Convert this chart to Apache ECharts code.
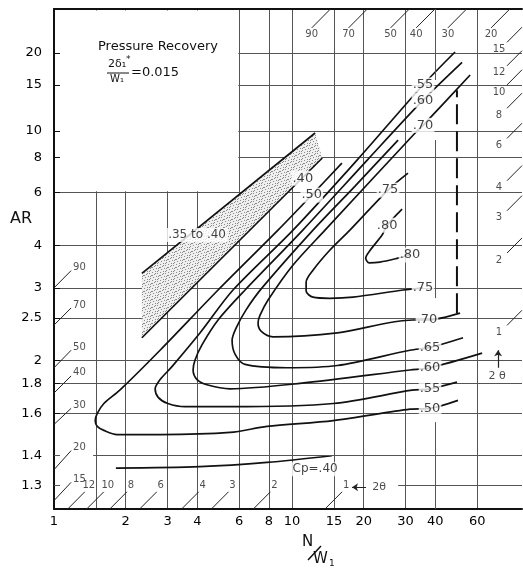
<!DOCTYPE html>
<html><head><meta charset="utf-8">
<script src="https://cdn.jsdelivr.net/npm/echarts@6/dist/echarts.min.js"></script>
<style>html,body{margin:0;padding:0;background:#fff}#c{width:523px;height:570px}</style>
</head><body><div id="c"></div>
<script>
// ---------- axes ----------
const xLabelValues = [1, 2, 3, 4, 6, 8, 10, 15, 20, 30, 40, 60];
const xGridValues = [1.5, 2, 3, 4, 6, 8, 10, 15, 20, 30, 60];      // full-height vertical rules
const arLabelValues = [1.3, 1.4, 1.6, 1.8, 2, 2.5, 3, 4, 6, 8, 10, 15, 20];
const arGridValues = [1.6, 1.8, 2, 2.5, 3, 4, 6, 8, 10, 15, 20];   // full-width horizontal rules
// partial rules: [N/W from, AR from, N/W to, AR to]
const partialRules = [[1, 1.3, 1.06, 1.3], [27.9, 1.3, 92.5, 1.3], [1, 1.4, 1.06, 1.4], [1.46, 1.4, 92.5, 1.4],
  [40, 1.24, 40, 1.552], [40, 2.813, 40, 9.25], [40, 15.68, 40, 30]];

// ---------- Cp contours: [N/W1, AR] ----------
const cp40 = [[1.82, 1.355], [4.1, 1.36], [7.85, 1.375], [14.7, 1.40]];
const cp50 = [[16.2, 7.62], [12.1, 5.87], [8.73, 4.48], [4.89, 2.96], [2.79, 2.10], [1.89, 1.75], [1.62, 1.66], [1.52, 1.60], [1.49, 1.56], [1.52, 1.53], [1.62, 1.51], [1.84, 1.49], [2.79, 1.49], [5.49, 1.50], [7.85, 1.53], [14.9, 1.56], [31.3, 1.625], [38, 1.63], [49.8, 1.68]];
const cp55 = [[48.4, 20.2], [35.5, 15.0], [18.76, 7.81], [10.1, 4.48], [5.65, 2.96], [4.11, 2.30], [3.13, 1.94], [2.79, 1.83], [2.66, 1.76], [2.74, 1.70], [3.01, 1.66], [3.55, 1.64], [5.49, 1.64], [14.9, 1.66], [31.9, 1.75], [38, 1.76], [49.3, 1.81]];
const cp60 = [[51.8, 18.4], [35.5, 13.1], [20.7, 7.81], [11.1, 4.48], [6.35, 2.96], [4.89, 2.47], [4.19, 2.16], [3.91, 2.0], [3.84, 1.91], [3.99, 1.83], [4.39, 1.79], [5.49, 1.76], [10.8, 1.80], [31.3, 1.91], [38, 1.93], [62.9, 2.07]];
const cp65 = [[27.9, 9.25], [18.4, 6.31], [12.25, 4.48], [7.48, 3.0], [6.41, 2.62], [5.82, 2.36], [5.60, 2.21], [5.76, 2.06], [6.35, 1.96], [9.53, 1.93], [15.5, 1.95], [31.3, 2.10], [38, 2.13], [52.3, 2.24]];
const cp70 = [[56, 16.4], [35.5, 10.5], [32.9, 9.83], [13.76, 4.48], [10.1, 3.49], [7.93, 2.78], [7.34, 2.54], [7.20, 2.43], [7.41, 2.32], [8.32, 2.25], [15.5, 2.30], [32.2, 2.47], [36.9, 2.47], [50.8, 2.57]];
const cp70dashed = [[49.3, 2.57], [49.3, 14.3]];
const cp75 = [[30.7, 7.01], [25.3, 6.11], [17.5, 4.48], [14.4, 3.87], [12.25, 3.37], [11.46, 3.11], [11.46, 2.94], [12.25, 2.83], [14.4, 2.81], [18.05, 2.83], [29.3, 2.96], [35.5, 3.0]];
const cp80 = [[29.0, 5.26], [25.1, 4.65], [23.9, 4.32], [21.3, 3.87], [20.4, 3.66], [21.1, 3.54], [23.4, 3.56], [27.9, 3.66], [31.3, 3.74]];
// shaded band .35 to .40 (polygon corners)
const band = [[2.34, 3.30], [12.5, 9.83], [13.4, 7.95], [2.34, 2.24]];
const bandTop = [[2.34, 3.30], [12.5, 9.83]];
const bandBottom = [[2.34, 2.24], [13.4, 7.95]];

// contour labels: [N/W1, AR, text]
const contourLabels = [
  [11.1, 6.72, '.40'], [12.1, 5.87, '.50'], [38, 1.63, '.50'],
  [35.5, 15.0, '.55'], [38, 1.76, '.55'], [35.5, 13.1, '.60'], [38, 1.93, '.60'],
  [38, 2.13, '.65'], [35.5, 10.5, '.70'], [36.9, 2.47, '.70'],
  [25.3, 6.11, '.75'], [35.5, 3.0, '.75'], [25.1, 4.65, '.80'], [31.3, 3.74, '.80']
];
const textNotes = [[12.5, 1.351, 'Cp=.40'], [3.99, 4.32, '.35 to .40']];

// divergence-angle (2θ) ticks: [label, N/W start, AR start, N/W end, AR end]
const leftAngleTicks = [['90', 1, 3.0, 1.18, 3.36], ['70', 1, 2.40, 1.18, 2.65], ['50', 1, 1.93, 1.18, 2.10], ['40', 1, 1.73, 1.18, 1.86], ['30', 1, 1.54, 1.18, 1.63], ['20', 1, 1.35, 1.18, 1.42], ['15', 1, 1.26, 1.18, 1.31]];
const bottomAngleTicks = [['12', 1.142, 1.24, 1.347, 1.283], ['10', 1.372, 1.24, 1.619, 1.283], ['8', 1.716, 1.24, 2.025, 1.283], ['6', 2.290, 1.24, 2.702, 1.283], ['4', 3.436, 1.24, 4.055, 1.283], ['3', 4.583, 1.24, 5.408, 1.283], ['2', 6.875, 1.24, 8.112, 1.283], ['1', 13.75, 1.24, 16.23, 1.283]];
const topAngleTicks = [['90', 14.5, 30, 12.1, 25.2], ['70', 20.71, 30, 17.28, 25.2], ['50', 31.1, 30, 25.95, 25.2], ['40', 39.84, 30, 33.25, 25.2], ['30', 54.11, 30, 45.16, 25.2], ['20', 82.23, 30, 68.6, 25.2]];
const rightAngleTicks = [['15', 80, 22.07, 92.5, 25.36], ['12', 80, 17.82, 92.5, 20.44], ['10', 80, 15.0, 92.5, 17.19], ['8', 80, 12.19, 92.5, 13.94], ['6', 80, 9.385, 92.5, 10.70], ['4', 80, 6.587, 92.5, 7.46], ['3', 80, 5.19, 92.5, 5.844], ['2', 80, 3.793, 92.5, 4.229], ['1', 80, 2.396, 92.5, 2.614]];
// 2θ direction arrows: [N/W from, AR from, N/W to, AR to]
const arrows = [[73.4, 1.93, 73.4, 2.10], [20.46, 1.296, 17.87, 1.296]];
const arrowTexts = [[72.7, 1.86, '2 θ'], [23.2, 1.296, '2θ']];

// ---------- build ----------
const FONT = 'DejaVu Sans';
const X_MAX = 92.5;
const a1 = p => [p[0], +(p[1] - 1).toFixed(5)];   // AR -> AR-1 (log axis of AR-1)

const pat = document.createElement('canvas');
pat.width = 8; pat.height = 8;
(function(){ const g = pat.getContext('2d'); g.fillStyle = '#efefef'; g.fillRect(0,0,8,8); g.fillStyle = '#8a8a8a';
  [[0,0],[5,1],[2,2],[7,3],[4,4],[1,5],[6,6],[3,7],[3,1],[6,4],[0,3],[5,7]].forEach(d => g.fillRect(d[0], d[1], 1, 1)); })();

function contour(data, extra) {
  return Object.assign({ type: 'line', data: data.map(a1), symbol: 'none', smooth: 0.3, silent: true, z: 3,
    lineStyle: { color: '#111', width: 1.7 }, animation: false }, extra || {});
}
function tickSeries(list) {
  return list.map(t => ({ coords: [a1([t[1], t[2]]), a1([t[3], t[4]])] }));
}
function tickLabels(list, useEnd, label) {
  return { type: 'scatter', symbolSize: 0, silent: true, z: 6, animation: false,
    data: list.map(t => ({ value: a1(useEnd ? [t[3], t[4]] : [t[1], t[2]]), name: t[0] })),
    label: Object.assign({ show: true, formatter: p => p.name, fontFamily: FONT, fontSize: 10, color: '#222' }, label) };
}

const series = [
  { type: 'line', silent: true, z: 1, animation: false, symbol: 'none', data: [a1([1, 1.3])], lineStyle: { width: 0 },
    markLine: { silent: true, symbol: 'none', animation: false, label: { show: false },
      lineStyle: { color: '#555', width: 1, type: 'solid' },
      data: partialRules.map(r => [{ coord: a1([r[0], r[1]]) }, { coord: a1([r[2], r[3]]) }]) } },
  { type: 'custom', silent: true, z: 2, animation: false, data: [a1(band[0])],
    renderItem: (params, api) => ({ type: 'polygon', shape: { points: band.map(p => api.coord(a1(p))) },
      style: { fill: { image: pat, repeat: 'repeat' }, stroke: null } }) },
  contour(bandTop, { smooth: false }), contour(bandBottom, { smooth: false }),
  contour(cp40), contour(cp50), contour(cp55), contour(cp60), contour(cp65), contour(cp70),
  contour(cp70dashed, { smooth: false, lineStyle: { color: '#111', width: 2, type: [20, 7] } }),
  contour(cp75), contour(cp80),
  { type: 'lines', coordinateSystem: 'cartesian2d', silent: true, z: 3, animation: false,
    lineStyle: { color: '#222', width: 1, opacity: 1 },
    data: tickSeries(leftAngleTicks).concat(tickSeries(bottomAngleTicks), tickSeries(topAngleTicks), tickSeries(rightAngleTicks)) },
  { type: 'lines', coordinateSystem: 'cartesian2d', silent: true, z: 3, animation: false,
    symbol: ['none', 'arrow'], symbolSize: 6, lineStyle: { color: '#222', width: 1.2, opacity: 1 },
    data: arrows.map(a => ({ coords: [a1([a[0], a[1]]), a1([a[2], a[3]])] })) },
  tickLabels(leftAngleTicks, true, { position: 'right', distance: 2, offset: [0, -3] }),
  tickLabels(bottomAngleTicks, true, { position: 'top', distance: 1, offset: [4, 0] }),
  tickLabels(topAngleTicks, true, { position: 'bottom', distance: 2, offset: [0, 0] }),
  tickLabels(rightAngleTicks, false, { position: 'bottom', distance: 2, offset: [-8, 0] }),
  { type: 'scatter', symbolSize: 0, silent: true, z: 6, animation: false,
    data: arrowTexts.map(t => ({ value: a1([t[0], t[1]]), name: t[2] })),
    label: { show: true, position: 'inside', formatter: p => p.name, fontFamily: FONT, fontSize: 11, color: '#222' } },
  { type: 'scatter', symbolSize: 0, silent: true, z: 7, animation: false,
    data: contourLabels.map(t => ({ value: a1([t[0], t[1]]), name: t[2] })),
    label: { show: true, position: 'inside', formatter: p => p.name, fontFamily: FONT, fontSize: 13, color: '#111',
      backgroundColor: '#fff', padding: [1, 1] } },
  { type: 'scatter', symbolSize: 0, silent: true, z: 7, animation: false,
    data: textNotes.map(t => ({ value: a1([t[0], t[1]]), name: t[2] })),
    label: { show: true, position: 'inside', formatter: p => p.name, fontFamily: FONT, fontSize: 12, color: '#111',
      backgroundColor: '#fff', padding: [1, 2] },
    markArea: { silent: true, itemStyle: { color: '#fff', opacity: 1 },
      data: [[{ coord: a1([1.06, 6.05]) }, { coord: a1([5.95, 29.6]) }]] } }
];

const chart = echarts.init(document.getElementById('c'), null, { renderer: 'canvas' });
chart.setOption({
  backgroundColor: '#fff',
  animation: false,
  grid: { left: 54, right: 1, top: 9, bottom: 61, show: false },
  xAxis: [{ type: 'log', logBase: 10, min: 1, max: X_MAX,
    axisLine: { show: true, lineStyle: { color: '#111', width: 2 } },
    axisTick: { show: false, customValues: xGridValues },
    axisLabel: { customValues: xLabelValues, margin: 6, fontFamily: FONT, fontSize: 13, color: '#000', formatter: v => String(v) },
    splitLine: { show: true, lineStyle: { color: '#555', width: 1 } } },
    { type: 'log', logBase: 10, min: 1, max: X_MAX, position: 'top',
    axisLine: { show: true, lineStyle: { color: '#111', width: 2 } },
    axisTick: { show: false }, axisLabel: { show: false }, splitLine: { show: false } }],
  yAxis: { type: 'log', logBase: 10, min: 0.24, max: 29,
    axisLine: { show: true, lineStyle: { color: '#111', width: 2 } },
    axisTick: { show: true, inside: true, length: 6, customValues: arGridValues.map(v => +(v - 1).toFixed(5)), lineStyle: { color: '#111' } },
    axisLabel: { customValues: arLabelValues.map(v => +(v - 1).toFixed(5)), margin: 12, fontFamily: FONT, fontSize: 13, color: '#000',
      formatter: v => String(Math.round((v + 1) * 10) / 10) },
    splitLine: { show: true, lineStyle: { color: '#555', width: 1 } } },
  graphic: [
    { type: 'text', left: 98, top: 40, z: 10, style: { text: 'Pressure Recovery', font: '13px "DejaVu Sans"', fill: '#111' } },
    { type: 'text', left: 108, top: 59, z: 10, style: { text: '2δ₁', font: '11px "DejaVu Sans"', fill: '#111' } },
    { type: 'text', left: 126, top: 55, z: 10, style: { text: '*', font: '9px "DejaVu Sans"', fill: '#111' } },
    { type: 'line', z: 10, shape: { x1: 107, y1: 73, x2: 129, y2: 73 }, style: { stroke: '#111', lineWidth: 1 } },
    { type: 'text', left: 110, top: 74, z: 10, style: { text: 'W₁', font: '10px "DejaVu Sans"', fill: '#111' } },
    { type: 'text', left: 131, top: 66, z: 10, style: { text: '=0.015', font: '13px "DejaVu Sans"', fill: '#111' } },
    { type: 'text', left: 10, top: 211, z: 10, style: { text: 'AR', font: '16px "DejaVu Sans"', fill: '#111' } },
    { type: 'text', left: 302, top: 535, z: 10, style: { text: 'N', font: '15px "DejaVu Sans"', fill: '#111' } },
    { type: 'line', z: 10, shape: { x1: 308, y1: 560, x2: 321, y2: 546 }, style: { stroke: '#111', lineWidth: 1.5 } },
    { type: 'text', left: 313, top: 552, z: 10, style: { text: 'W', font: '15px "DejaVu Sans"', fill: '#111' } },
    { type: 'text', left: 329, top: 559, z: 10, style: { text: '1', font: '9px "DejaVu Sans"', fill: '#111' } }
  ],
  series: series
});
</script></body></html>
